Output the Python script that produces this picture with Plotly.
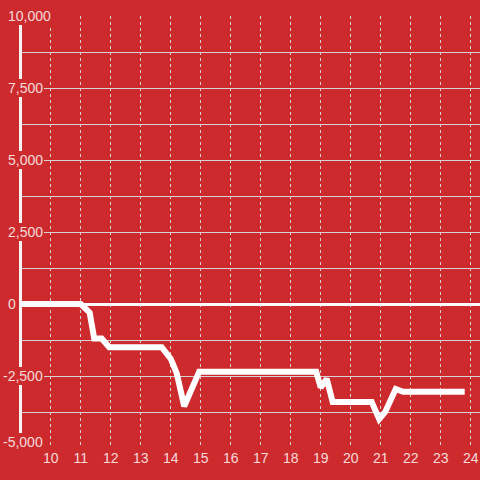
import plotly.graph_objects as go

# Data
x_vals = [9.0, 11.0, 11.3, 11.45, 11.7, 11.95, 13.7, 14.0, 14.2, 14.45, 14.95,
          18.85, 19.0, 19.2, 19.4, 20.7, 20.95, 21.15, 21.5, 21.75, 23.8]
y_vals = [0, 0, -300, -1200, -1200, -1500, -1500, -1900, -2400, -3550, -2350,
          -2350, -2900, -2600, -3400, -3400, -4000, -3750, -2950, -3050, -3050]
y_tick_vals = [-5000, -2500, 0, 2500, 5000, 7500, 10000]
x_tick_vals = list(range(10, 25))

BG = "#cd2a2e"
TXT = "#f6dada"
GRID = "#d4d4d4"
FONT = "Liberation Sans, Arial, sans-serif"

L, R, T, B = 22, 0, 16, 32
W = H = 480
plot_w = W - L - R

fig = go.Figure()
fig.add_trace(go.Scatter(
    x=x_vals, y=y_vals, mode="lines",
    line=dict(color="white", width=6),
    hoverinfo="skip", showlegend=False,
))

annotations = []
for v in y_tick_vals:
    px = 7 if v >= 0 else 2
    annotations.append(dict(
        x=(px - L) / plot_w, xref="paper", xanchor="left",
        y=v, yref="y", yanchor="middle",
        yshift=6 if v == min(y_tick_vals) else 0,
        text=f"{v:,}", showarrow=False,
        font=dict(family=FONT, size=14, color=TXT),
        bgcolor=BG, borderpad=0, borderwidth=1, bordercolor=BG,
    ))

fig.update_layout(
    width=W, height=H,
    margin=dict(l=L, r=R, t=T, b=B, pad=0),
    paper_bgcolor=BG, plot_bgcolor=BG,
    showlegend=False,
    annotations=annotations,
    xaxis=dict(
        range=[10 - 28.7 / 30, 24.31],
        tickmode="array", tickvals=x_tick_vals,
        ticktext=[str(v) for v in x_tick_vals],
        showgrid=True, gridcolor=GRID, gridwidth=1, griddash="3px,3px",
        zeroline=False, showline=False, ticks="",
        tickfont=dict(family=FONT, size=14, color=TXT),
        fixedrange=True,
    ),
    yaxis=dict(
        range=[-5000, 10000],
        tick0=0, dtick=1250,
        showticklabels=False,
        showgrid=True, gridcolor=GRID, gridwidth=1,
        zeroline=True, zerolinecolor="white", zerolinewidth=3,
        showline=True, linecolor="#f4f4f4", linewidth=3,
        ticks="", fixedrange=True,
    ),
)

fig.write_html(
    "out.html",
    config={"displayModeBar": False},
    post_script="document.body.style.margin='0';document.body.style.overflow='hidden';",
)
